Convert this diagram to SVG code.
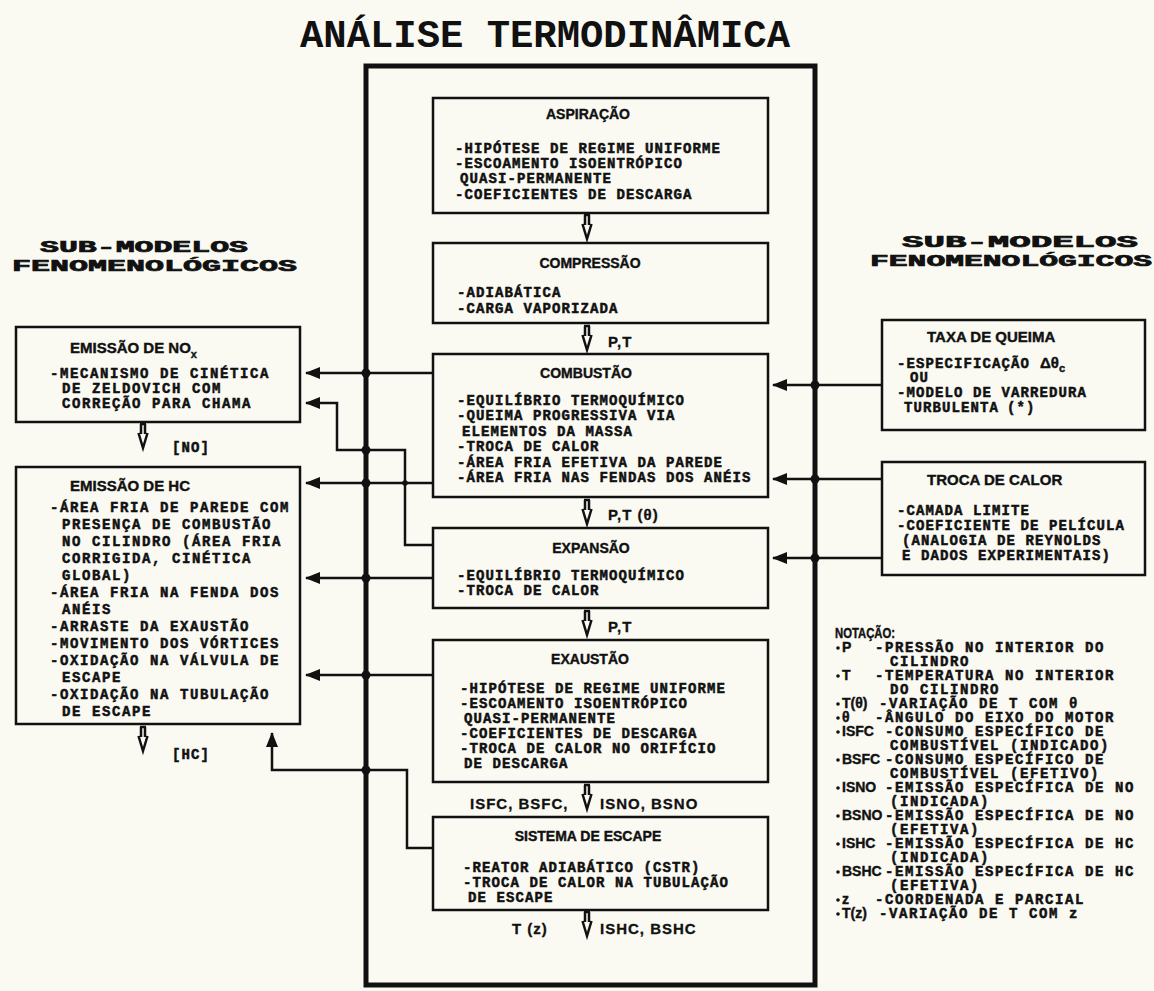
<svg xmlns="http://www.w3.org/2000/svg" width="1154" height="991" viewBox="0 0 1154 991">
<defs>
<style>
.bx{fill:none;stroke:#111;stroke-width:2.5}
.fr{fill:none;stroke:#111;stroke-width:5}
.ln{fill:none;stroke:#111;stroke-width:2.5}
.t{font-family:"Liberation Mono","DejaVu Sans Mono",monospace;font-weight:bold;font-size:14px;letter-spacing:1.1px;fill:#111;stroke:#111;stroke-width:0.5}
.tw{font-family:"Liberation Mono","DejaVu Sans Mono",monospace;font-weight:bold;font-size:14px;letter-spacing:1.6px;fill:#111;stroke:#111;stroke-width:0.5}
.h{font-family:"Liberation Sans",Arial,sans-serif;font-weight:bold;font-size:14px;fill:#111;stroke:#111;stroke-width:0.4}
.h2{font-family:"Liberation Sans",Arial,sans-serif;font-weight:bold;font-size:15px;fill:#111;stroke:#111;stroke-width:0.4}
.lb{font-family:"Liberation Sans",Arial,sans-serif;font-weight:bold;font-size:15px;letter-spacing:1px;fill:#111;stroke:#111;stroke-width:0.3}
.sm{font-family:"Liberation Mono","Courier New",monospace;font-weight:bold;font-size:16px;fill:#111;stroke:#111;stroke-width:0.7}
.ttl{font-family:"Liberation Mono","DejaVu Sans Mono",monospace;font-weight:bold;font-size:38px;fill:#111}
.dot{fill:#111}
</style>
<marker id="ah" markerUnits="userSpaceOnUse" markerWidth="15" markerHeight="12" refX="14" refY="6" orient="auto">
<path d="M0,0 L15,6 L0,12 z" fill="#111"/>
</marker>
<g id="dn"><path d="M-3,0 H3 M-2,0 V10 M2,0 V10 M-4.5,9 L0,24 L4.5,9" fill="none" stroke="#111" stroke-width="2.5"/></g>
</defs>
<rect width="1154" height="991" fill="#fafaf3"/>

<text class="ttl" x="300" y="47" textLength="490" lengthAdjust="spacingAndGlyphs">ANÁLISE TERMODINÂMICA</text>

<g id="heading-left">
<text class="sm" x="40" y="252" textLength="208" lengthAdjust="spacingAndGlyphs">SUB-MODELOS</text>
<text class="sm" x="12" y="271" textLength="285" lengthAdjust="spacingAndGlyphs">FENOMENOLÓGICOS</text>
</g>
<g id="heading-right">
<text class="sm" x="902" y="247" textLength="236" lengthAdjust="spacingAndGlyphs">SUB-MODELOS</text>
<text class="sm" x="870" y="266" textLength="282" lengthAdjust="spacingAndGlyphs">FENOMENOLÓGICOS</text>
</g>

<g id="frame"><rect class="fr" x="366" y="66" width="449" height="919"/></g>

<g id="connectors">
<path class="ln" d="M433,373 H306" marker-end="url(#ah)"/>
<path class="ln" d="M433,545 H405 V450 H337 V403 H306" marker-end="url(#ah)"/>
<path class="ln" d="M433,483 H306" marker-end="url(#ah)"/>
<path class="ln" d="M433,578 H306" marker-end="url(#ah)"/>
<path class="ln" d="M433,675 H306" marker-end="url(#ah)"/>
<path class="ln" d="M433,848 H407 V770 H272 V733" marker-end="url(#ah)"/>
<path class="ln" d="M882,385 H773" marker-end="url(#ah)"/>
<path class="ln" d="M882,479 H773" marker-end="url(#ah)"/>
<path class="ln" d="M882,558 H773" marker-end="url(#ah)"/>
<circle class="dot" cx="366" cy="373" r="4.5"/>
<circle class="dot" cx="366" cy="450" r="4.5"/>
<circle class="dot" cx="366" cy="483" r="4.5"/>
<circle class="dot" cx="366" cy="578" r="4.5"/>
<circle class="dot" cx="366" cy="675" r="4.5"/>
<circle class="dot" cx="366" cy="770" r="4.5"/>
<circle class="dot" cx="405" cy="483" r="2.8"/>
<circle class="dot" cx="815" cy="385" r="4.5"/>
<circle class="dot" cx="815" cy="479" r="4.5"/>
<circle class="dot" cx="815" cy="558" r="4.5"/>
<use href="#dn" x="587" y="215"/>
<use href="#dn" x="587" y="326"/>
<use href="#dn" x="587" y="500"/>
<use href="#dn" x="587" y="611"/>
<use href="#dn" x="587" y="785"/>
<use href="#dn" x="587" y="912"/>
<use href="#dn" x="143" y="424"/>
<use href="#dn" x="143" y="727"/>
<text class="lb" x="608" y="347">P,T</text>
<text class="lb" x="608" y="520">P,T (θ)</text>
<text class="lb" x="608" y="632">P,T</text>
<text class="lb" x="470" y="809">ISFC, BSFC,</text>
<text class="lb" x="600" y="809">ISNO, BSNO</text>
<text class="lb" x="512" y="934">T (z)</text>
<text class="lb" x="600" y="934">ISHC, BSHC</text>
<text class="t" x="172" y="452">[NO]</text>
<text class="t" x="172" y="759">[HC]</text>
</g>

<g id="aspiracao">
<rect class="bx" x="433" y="98" width="335" height="115"/>
<text class="h" x="588" y="119" text-anchor="middle">ASPIRAÇÃO</text>
<text class="t" x="455" y="153">-HIPÓTESE DE REGIME UNIFORME</text>
<text class="t" x="455" y="168">-ESCOAMENTO ISOENTRÓPICO</text>
<text class="t" x="460" y="183">QUASI-PERMANENTE</text>
<text class="t" x="455" y="199">-COEFICIENTES DE DESCARGA</text>
</g>

<g id="compressao">
<rect class="bx" x="433" y="243" width="335" height="80"/>
<text class="h" x="590" y="268" text-anchor="middle">COMPRESSÃO</text>
<text class="t" x="457" y="297">-ADIABÁTICA</text>
<text class="t" x="457" y="313">-CARGA VAPORIZADA</text>
</g>

<g id="combustao">
<rect class="bx" x="433" y="354" width="335" height="143"/>
<text class="h" x="586" y="378" text-anchor="middle">COMBUSTÃO</text>
<text class="t" x="457" y="405">-EQUILÍBRIO TERMOQUÍMICO</text>
<text class="t" x="457" y="420">-QUEIMA PROGRESSIVA VIA</text>
<text class="t" x="462" y="436">ELEMENTOS DA MASSA</text>
<text class="t" x="457" y="451">-TROCA DE CALOR</text>
<text class="t" x="457" y="467">-ÁREA FRIA EFETIVA DA PAREDE</text>
<text class="t" x="457" y="482">-ÁREA FRIA NAS FENDAS DOS ANÉIS</text>
</g>

<g id="expansao">
<rect class="bx" x="433" y="528" width="335" height="80"/>
<text class="h" x="591" y="553" text-anchor="middle">EXPANSÃO</text>
<text class="t" x="457" y="580">-EQUILÍBRIO TERMOQUÍMICO</text>
<text class="t" x="457" y="595">-TROCA DE CALOR</text>
</g>

<g id="exaustao">
<rect class="bx" x="433" y="640" width="335" height="142"/>
<text class="h" x="590" y="664" text-anchor="middle">EXAUSTÃO</text>
<text class="t" x="460" y="693">-HIPÓTESE DE REGIME UNIFORME</text>
<text class="t" x="460" y="708">-ESCOAMENTO ISOENTRÓPICO</text>
<text class="t" x="464" y="723">QUASI-PERMANENTE</text>
<text class="t" x="460" y="738">-COEFICIENTES DE DESCARGA</text>
<text class="t" x="460" y="753">-TROCA DE CALOR NO ORIFÍCIO</text>
<text class="t" x="464" y="768">DE DESCARGA</text>
</g>

<g id="sistema-escape">
<rect class="bx" x="433" y="817" width="335" height="93"/>
<text class="h" x="588" y="841" text-anchor="middle">SISTEMA DE ESCAPE</text>
<text class="t" x="463" y="872">-REATOR ADIABÁTICO (CSTR)</text>
<text class="t" x="463" y="887">-TROCA DE CALOR NA TUBULAÇÃO</text>
<text class="t" x="468" y="902">DE ESCAPE</text>
</g>

<g id="emissao-nox">
<rect class="bx" x="16" y="327" width="284" height="95"/>
<text class="h2" x="70" y="353">EMISSÃO DE NO<tspan font-size="11" dy="5">x</tspan></text>
<text class="tw" x="50" y="378">-MECANISMO DE CINÉTICA</text>
<text class="tw" x="62" y="393">DE ZELDOVICH COM</text>
<text class="tw" x="62" y="408">CORREÇÃO PARA CHAMA</text>
</g>

<g id="emissao-hc">
<rect class="bx" x="16" y="467" width="284" height="257"/>
<text class="h2" x="70" y="491">EMISSÃO DE HC</text>
<text class="tw" x="50" y="512">-ÁREA FRIA DE PAREDE COM</text>
<text class="tw" x="62" y="529">PRESENÇA DE COMBUSTÃO</text>
<text class="tw" x="62" y="546">NO CILINDRO (ÁREA FRIA</text>
<text class="tw" x="62" y="563">CORRIGIDA, CINÉTICA</text>
<text class="tw" x="62" y="580">GLOBAL)</text>
<text class="tw" x="50" y="597">-ÁREA FRIA NA FENDA DOS</text>
<text class="tw" x="62" y="614">ANÉIS</text>
<text class="tw" x="50" y="631">-ARRASTE DA EXAUSTÃO</text>
<text class="tw" x="50" y="648">-MOVIMENTO DOS VÓRTICES</text>
<text class="tw" x="50" y="665">-OXIDAÇÃO NA VÁLVULA DE</text>
<text class="tw" x="62" y="682">ESCAPE</text>
<text class="tw" x="50" y="699">-OXIDAÇÃO NA TUBULAÇÃO</text>
<text class="tw" x="62" y="716">DE ESCAPE</text>
</g>

<g id="taxa-queima">
<rect class="bx" x="882" y="320" width="263" height="110"/>
<text class="h2" x="927" y="342">TAXA DE QUEIMA</text>
<text class="t" x="897" y="368">-ESPECIFICAÇÃO</text>
<text class="h2" x="1040" y="368">Δθ<tspan font-size="11" dy="4">c</tspan></text>
<text class="t" x="910" y="382">OU</text>
<text class="t" x="897" y="397">-MODELO DE VARREDURA</text>
<text class="t" x="904" y="412">TURBULENTA</text>
<text class="t" x="1007" y="412" font-size="11" letter-spacing="0">(*)</text>
</g>

<g id="troca-calor">
<rect class="bx" x="882" y="462" width="263" height="113"/>
<text class="h2" x="927" y="485">TROCA DE CALOR</text>
<text class="t" x="897" y="515">-CAMADA LIMITE</text>
<text class="t" x="897" y="530">-COEFICIENTE DE PELÍCULA</text>
<text class="t" x="902" y="545">(ANALOGIA DE REYNOLDS</text>
<text class="t" x="902" y="560">E DADOS EXPERIMENTAIS)</text>
</g>

<g id="notacao">
<text class="h" x="835" y="638" font-size="12" textLength="60" lengthAdjust="spacingAndGlyphs">NOTAÇÃO:</text>
<g class="dot">
<circle cx="838" cy="648" r="1.8"/><circle cx="838" cy="676" r="1.8"/><circle cx="838" cy="704" r="1.8"/>
<circle cx="838" cy="718" r="1.8"/><circle cx="838" cy="732" r="1.8"/><circle cx="838" cy="760" r="1.8"/>
<circle cx="838" cy="788" r="1.8"/><circle cx="838" cy="816" r="1.8"/><circle cx="838" cy="844" r="1.8"/>
<circle cx="838" cy="872" r="1.8"/><circle cx="838" cy="900" r="1.8"/><circle cx="838" cy="914" r="1.8"/>
</g>
<text class="h" x="842" y="652">P</text><text class="tw" x="875" y="652">-PRESSÃO NO INTERIOR DO</text>
<text class="tw" x="890" y="666">CILINDRO</text>
<text class="h" x="842" y="680">T</text><text class="tw" x="875" y="680">-TEMPERATURA NO INTERIOR</text>
<text class="tw" x="890" y="694">DO CILINDRO</text>
<text class="h" x="842" y="708">T(θ)</text><text class="tw" x="879" y="708">-VARIAÇÃO DE T COM θ</text>
<text class="h" x="842" y="722">θ</text><text class="tw" x="875" y="722">-ÂNGULO DO EIXO DO MOTOR</text>
<text class="h" x="842" y="736">ISFC</text><text class="tw" x="885" y="736">-CONSUMO ESPECÍFICO DE</text>
<text class="tw" x="890" y="750">COMBUSTÍVEL (INDICADO)</text>
<text class="h" x="842" y="764">BSFC</text><text class="tw" x="885" y="764">-CONSUMO ESPECÍFICO DE</text>
<text class="tw" x="890" y="778">COMBUSTÍVEL (EFETIVO)</text>
<text class="h" x="842" y="792">ISNO</text><text class="tw" x="885" y="792">-EMISSÃO ESPECÍFICA DE NO</text>
<text class="tw" x="890" y="806">(INDICADA)</text>
<text class="h" x="842" y="820">BSNO</text><text class="tw" x="885" y="820">-EMISSÃO ESPECÍFICA DE NO</text>
<text class="tw" x="890" y="834">(EFETIVA)</text>
<text class="h" x="842" y="848">ISHC</text><text class="tw" x="885" y="848">-EMISSÃO ESPECÍFICA DE HC</text>
<text class="tw" x="890" y="862">(INDICADA)</text>
<text class="h" x="842" y="876">BSHC</text><text class="tw" x="885" y="876">-EMISSÃO ESPECÍFICA DE HC</text>
<text class="tw" x="890" y="890">(EFETIVA)</text>
<text class="h" x="842" y="904">z</text><text class="tw" x="875" y="904">-COORDENADA E PARCIAL</text>
<text class="h" x="842" y="918">T(z)</text><text class="tw" x="879" y="918">-VARIAÇÃO DE T COM z</text>
</g>
</svg>
